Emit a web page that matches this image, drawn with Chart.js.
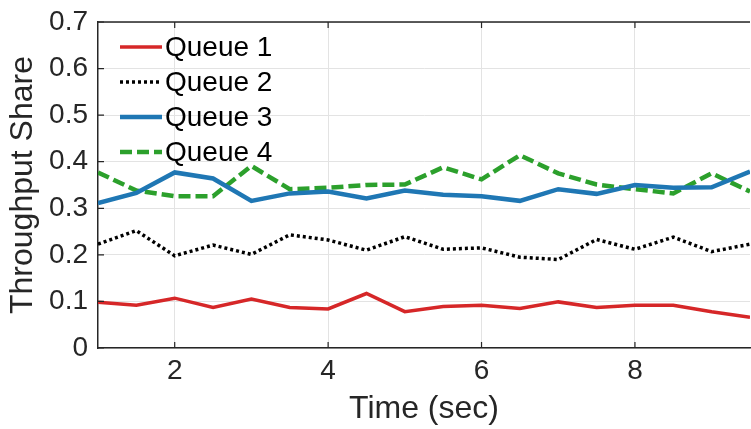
<!DOCTYPE html>
<html>
<head>
<meta charset="utf-8">
<script src="https://cdn.jsdelivr.net/npm/chart.js@4"></script>
<style>
  html, body { margin: 0; padding: 0; background: #ffffff; }
  #wrap { width: 751px; height: 429px; }
</style>
</head>
<body>
<div id="wrap"><canvas id="c" width="751" height="429"></canvas></div>
<script>
// Sampling instants (seconds)
const times = [1, 1.5, 2, 2.5, 3, 3.5, 4, 4.5, 5, 5.5, 6, 6.5, 7, 7.5, 8, 8.5, 9, 9.5];

// Throughput share per queue
const queue1 = [0.098, 0.092, 0.107, 0.087, 0.105, 0.087, 0.084, 0.117, 0.078, 0.089, 0.092, 0.085, 0.099, 0.087, 0.092, 0.092, 0.078, 0.066];
const queue2 = [0.223, 0.252, 0.198, 0.221, 0.201, 0.243, 0.232, 0.210, 0.239, 0.212, 0.215, 0.195, 0.190, 0.233, 0.212, 0.238, 0.207, 0.223];
const queue3 = [0.311, 0.333, 0.377, 0.364, 0.316, 0.332, 0.336, 0.321, 0.338, 0.329, 0.326, 0.316, 0.341, 0.331, 0.350, 0.344, 0.345, 0.379];
const queue4 = [0.377, 0.338, 0.326, 0.326, 0.391, 0.341, 0.344, 0.350, 0.351, 0.388, 0.362, 0.414, 0.375, 0.351, 0.341, 0.332, 0.375, 0.336];

const seriesNames = ['Queue 1', 'Queue 2', 'Queue 3', 'Queue 4'];

// Axis ticks
const xTicks = [2, 4, 6, 8];
const xTickLabels = ['2', '4', '6', '8'];
const yTicks = [0, 0.1, 0.2, 0.3, 0.4, 0.5, 0.6, 0.7];
const yTickLabels = ['0', '0.1', '0.2', '0.3', '0.4', '0.5', '0.6', '0.7'];

const FONT = '"Liberation Sans", Arial, Helvetica, sans-serif';
const AXIS_COLOR = '#262626';
const GRID_COLOR = '#e3e3e3';

const toPoints = arr => arr.map((v, i) => ({ x: times[i], y: v }));

const styles = [
  { color: '#d62728', width: 3.5, dash: [] },
  { color: '#000000', width: 3.5, dash: [3, 3] },
  { color: '#1f77b4', width: 4.5, dash: [] },
  { color: '#2ca02c', width: 4.5, dash: [12, 5] }
];

const datasets = [queue1, queue2, queue3, queue4].map((arr, i) => ({
  label: seriesNames[i],
  data: toPoints(arr),
  borderColor: styles[i].color,
  backgroundColor: styles[i].color,
  borderWidth: styles[i].width,
  borderDash: styles[i].dash,
  borderCapStyle: 'butt',
  borderJoinStyle: 'miter',
  pointRadius: 0,
  tension: 0,
  fill: false
}));

// Box frame, inward tick marks and the in-plot legend
const framePlugin = {
  id: 'frame',
  afterDraw(chart) {
    const { ctx, chartArea: a, scales } = chart;
    const tl = 6;
    ctx.save();
    ctx.strokeStyle = AXIS_COLOR;
    ctx.lineWidth = 1.5;
    ctx.beginPath();
    ctx.moveTo(a.left, a.top);
    ctx.lineTo(a.right, a.top);
    ctx.stroke();
    ctx.lineWidth = 1.2;
    ctx.beginPath();
    yTicks.forEach(v => {
      const y = scales.y.getPixelForValue(v);
      ctx.moveTo(a.left, y);
      ctx.lineTo(a.left + tl, y);
    });
    xTicks.forEach(v => {
      const x = scales.x.getPixelForValue(v);
      ctx.moveTo(x, a.bottom);
      ctx.lineTo(x, a.bottom - tl);
      ctx.moveTo(x, a.top);
      ctx.lineTo(x, a.top + tl);
    });
    ctx.stroke();

    // legend
    const lx0 = a.left + 22, lx1 = a.left + 64, tx = a.left + 67;
    const y0 = a.top + 25, dy = 35;
    ctx.font = '28px ' + FONT;
    ctx.textBaseline = 'middle';
    ctx.textAlign = 'left';
    chart.data.datasets.forEach((ds, i) => {
      const y = y0 + i * dy;
      ctx.strokeStyle = ds.borderColor;
      ctx.lineWidth = ds.borderWidth;
      ctx.setLineDash(ds.borderDash);
      ctx.lineCap = 'butt';
      ctx.beginPath();
      ctx.moveTo(lx0, y);
      ctx.lineTo(lx1, y);
      ctx.stroke();
      ctx.setLineDash([]);
      ctx.fillStyle = '#000000';
      ctx.fillText(ds.label, tx, y + 1);
    });
    ctx.restore();
  }
};

new Chart(document.getElementById('c'), {
  type: 'line',
  data: { datasets },
  options: {
    responsive: false,
    animation: false,
    layout: { padding: { top: 22, right: 1, left: 0, bottom: 0 } },
    plugins: { legend: { display: false }, tooltip: { enabled: false } },
    scales: {
      x: {
        type: 'linear',
        min: 1,
        max: 9.5,
        afterBuildTicks: s => { s.ticks = xTicks.map(v => ({ value: v })); },
        afterFit: s => { s.height = 81; s.paddingLeft = 0; s.paddingRight = 0; },
        grid: { color: GRID_COLOR, lineWidth: 1, drawTicks: false },
        border: { display: true, color: AXIS_COLOR, width: 1.5 },
        ticks: {
          padding: 6,
          color: AXIS_COLOR,
          font: { family: FONT, size: 28 },
          maxRotation: 0,
          autoSkip: false,
          callback: (v, i) => xTickLabels[i]
        },
        title: {
          display: true,
          text: 'Time (sec)',
          color: AXIS_COLOR,
          font: { family: FONT, size: 32 },
          padding: { top: 0, bottom: 1 }
        }
      },
      y: {
        min: 0,
        max: 0.7,
        afterBuildTicks: s => { s.ticks = yTicks.map(v => ({ value: v })); },
        afterFit: s => { s.width = 98; s.paddingTop = 0; s.paddingBottom = 0; },
        grid: { color: GRID_COLOR, lineWidth: 1, drawTicks: false },
        border: { display: true, color: AXIS_COLOR, width: 1.5 },
        ticks: {
          padding: 10,
          color: AXIS_COLOR,
          font: { family: FONT, size: 28 },
          autoSkip: false,
          callback: (v, i) => yTickLabels[i]
        },
        title: {
          display: true,
          text: 'Throughput Share',
          color: AXIS_COLOR,
          font: { family: FONT, size: 32 },
          padding: { top: 4, bottom: 0 }
        }
      }
    }
  },
  plugins: [framePlugin]
});
</script>
</body>
</html>
